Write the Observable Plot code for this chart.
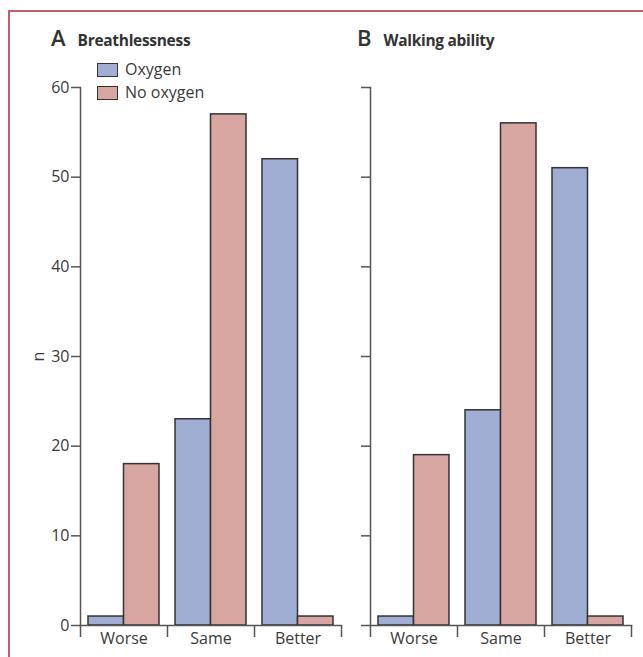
<!DOCTYPE html>
<html>
<head>
<meta charset="utf-8">
<script src="https://cdn.jsdelivr.net/npm/d3@7"></script>
<script src="https://cdn.jsdelivr.net/npm/@observablehq/plot@0.6"></script>
<style>
  html, body { margin: 0; padding: 0; background: #fff; }
  body { width: 643px; height: 657px; position: relative; overflow: hidden; font-family: "Open Sans", sans-serif; color: #3a3a3a; }
  #frame { position: absolute; left: 8px; top: 10px; width: 700px; height: 700px; border-left: 2px solid #c95a6c; border-top: 2px solid #c95a6c; box-sizing: border-box; }
  .panel { position: absolute; top: 0; }
  .title { position: absolute; white-space: nowrap; font-weight: 700; color: #333; }
  .title .letter { font-size: 22px; font-weight: 600; margin-right: 12px; }
  .title .name { font-size: 15.5px; letter-spacing: -0.3px; }
  .legend { position: absolute; left: 97px; top: 58px; font-size: 16px; line-height: 23px; }
  .legend .item { display: flex; align-items: center; height: 23px; }
  .legend .sw { width: 19px; height: 12px; border: 1.5px solid #333; margin-right: 7px; box-sizing: content-box; }
</style>
</head>
<body>
<div id="frame"></div>
<div id="panelA" class="panel" style="left:0px"></div>
<div id="panelB" class="panel" style="left:290px"></div>
<div class="title" style="left:51px; top:22px"><span class="letter">A</span><span class="name">Breathlessness</span></div>
<div class="title" style="left:357px; top:22px"><span class="letter">B</span><span class="name">Walking ability</span></div>
<div class="legend" id="legend"></div>
<script>
const categories = ["Worse", "Same", "Better"];
const groups = ["Oxygen", "No oxygen"];
const colors = ["#a0aed4", "#d7a6a1"];
const breathOxygen = [1, 23, 52];
const breathNoOxygen = [18, 57, 1];
const walkOxygen = [1, 24, 51];
const walkNoOxygen = [19, 56, 1];
const yTicks = [0, 10, 20, 30, 40, 50, 60];

const legend = document.getElementById("legend");
groups.forEach((g, i) => {
  const it = document.createElement("div");
  it.className = "item";
  it.innerHTML = `<span class="sw" style="background:${colors[i]}"></span><span>${g}</span>`;
  legend.appendChild(it);
});

function rows(values) {
  return categories.map((c, i) => ({cat: c, i, value: values[i]}));
}

function panel(oxy, noOxy, showLabels, width, marginRight) {
  return Plot.plot({
    width,
    height: 657,
    marginLeft: 80,
    marginRight,
    marginTop: 87,
    marginBottom: 32,
    style: {fontFamily: "Open Sans, sans-serif", fontSize: "16px", color: "#3a3a3a", background: "transparent", overflow: "visible"},
    x: {domain: [0, categories.length], axis: null},
    y: {domain: [0, 60], axis: null},
    marks: [
      Plot.rectY(rows(oxy), {x1: d => d.i, x2: d => d.i + 0.5, y: "value", fill: colors[0], stroke: "#333", strokeWidth: 1.5, insetLeft: 8}),
      Plot.rectY(rows(noOxy), {x1: d => d.i + 0.5, x2: d => d.i + 1, y: "value", fill: colors[1], stroke: "#333", strokeWidth: 1.5, insetRight: 8}),
      Plot.frame({anchor: "left", stroke: "#555", strokeWidth: 1.5}),
      Plot.frame({anchor: "bottom", stroke: "#555", strokeWidth: 1.5}),
      Plot.axisY({ticks: yTicks, tickSize: 9, tickPadding: 2, strokeWidth: 1.5, stroke: "#555", fontSize: 16,
        tickFormat: showLabels ? (d => d) : (() => ""),
        label: showLabels ? "n" : null, labelAnchor: "center", labelOffset: 48, labelArrow: "none"}),
      Plot.axisX({ticks: d3.range(0, categories.length + 1), tickSize: 12, tickFormat: () => "", strokeWidth: 1.5, stroke: "#555", label: null}),
      Plot.axisX({ticks: categories.map((c, i) => i + 0.5), tickSize: 0, tickPadding: 7, fontSize: 16, tickFormat: d => categories[Math.floor(d)], label: null})
    ]
  });
}

document.getElementById("panelA").appendChild(panel(breathOxygen, breathNoOxygen, true, 345, 4));
document.getElementById("panelB").appendChild(panel(walkOxygen, walkNoOxygen, false, 350, 9));
</script>
</body>
</html>
